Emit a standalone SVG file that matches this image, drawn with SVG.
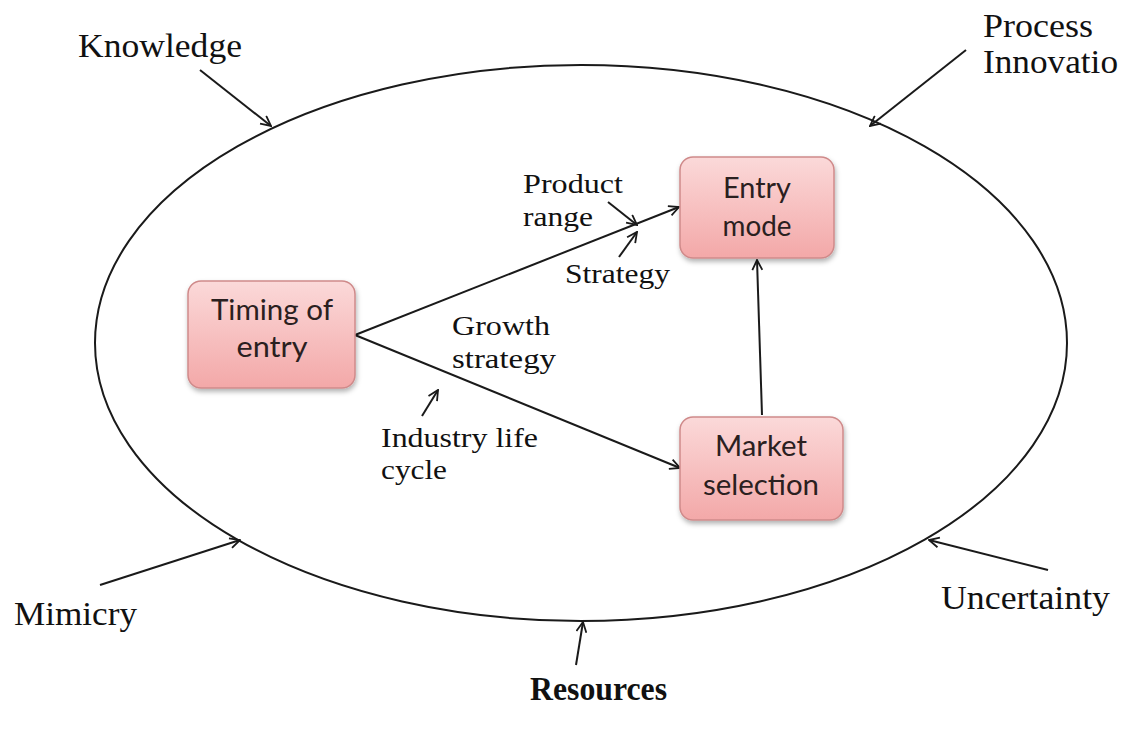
<svg xmlns="http://www.w3.org/2000/svg" width="1131" height="733" viewBox="0 0 1131 733">
<style>
.lbl{font-family:"Liberation Serif","Times New Roman",serif;font-size:33px;fill:#111}
.sm{font-size:28px}
.box{fill:url(#pink);stroke:#cf8a8a;stroke-width:1.5}
.bt{font-family:Lato,"Open Sans","Liberation Sans",sans-serif;font-size:29px;fill:#2a2020;text-anchor:middle}
.ln{stroke:#1a1a1a;stroke-width:2;fill:none;marker-end:url(#ah)}
</style>
<defs>
<linearGradient id="pink" x1="0" y1="0" x2="0" y2="1">
<stop offset="0" stop-color="#fbd9d9"/>
<stop offset="1" stop-color="#f3a8a8"/>
</linearGradient>
<filter id="sh" x="-20%" y="-20%" width="140%" height="140%">
<feDropShadow dx="1" dy="3" stdDeviation="2.5" flood-color="#000" flood-opacity="0.3"/>
</filter>
<marker id="ah" viewBox="0 0 12 12" refX="11" refY="6" markerWidth="12" markerHeight="12" markerUnits="userSpaceOnUse" orient="auto">
<path d="M1,1 L11,6 L1,11" fill="none" stroke="#1a1a1a" stroke-width="1.8"/>
</marker>
</defs>
<rect width="1131" height="733" fill="#fff"/>
<ellipse cx="581" cy="343" rx="486" ry="278" fill="none" stroke="#1a1a1a" stroke-width="2"/>
<g id="connectors">
<line class="ln" x1="355" y1="335" x2="679" y2="207"/>
<line class="ln" x1="355" y1="335" x2="680" y2="468"/>
<line class="ln" x1="762" y1="415" x2="757" y2="260"/>
<line class="ln" x1="608" y1="202" x2="637" y2="225"/>
<line class="ln" x1="619" y1="257" x2="637" y2="232"/>
<line class="ln" x1="422" y1="416" x2="438" y2="390"/>
<line class="ln" x1="200" y1="70" x2="271" y2="126"/>
<line class="ln" x1="966" y1="50" x2="870" y2="126"/>
<line class="ln" x1="100" y1="585" x2="240" y2="540"/>
<line class="ln" x1="1048" y1="570" x2="929" y2="540"/>
<line class="ln" x1="576" y1="665" x2="583" y2="622"/>
</g>
<g id="timing">
<rect class="box" x="188" y="281" width="167" height="107" rx="13" filter="url(#sh)"/>
<text class="bt" x="272" y="320" textLength="122" lengthAdjust="spacingAndGlyphs">Timing of</text>
<text class="bt" x="272" y="357" textLength="71" lengthAdjust="spacingAndGlyphs">entry</text>
</g>
<g id="entry-mode">
<rect class="box" x="680" y="157" width="154" height="101" rx="13" filter="url(#sh)"/>
<text class="bt" x="757" y="198" textLength="68" lengthAdjust="spacingAndGlyphs">Entry</text>
<text class="bt" x="757" y="236" textLength="69" lengthAdjust="spacingAndGlyphs">mode</text>
</g>
<g id="market-selection">
<rect class="box" x="680" y="417" width="163" height="103" rx="13" filter="url(#sh)"/>
<text class="bt" x="761" y="456" textLength="92" lengthAdjust="spacingAndGlyphs">Market</text>
<text class="bt" x="761" y="495" textLength="116" lengthAdjust="spacingAndGlyphs">selection</text>
</g>
<g id="labels">
<text class="lbl" x="78" y="57" textLength="164" lengthAdjust="spacingAndGlyphs">Knowledge</text>
<text class="lbl" x="983" y="37" textLength="110" lengthAdjust="spacingAndGlyphs">Process</text>
<text class="lbl" x="983" y="73" textLength="135" lengthAdjust="spacingAndGlyphs">Innovatio</text>
<text class="lbl sm" x="523" y="193" textLength="100" lengthAdjust="spacingAndGlyphs">Product</text>
<text class="lbl sm" x="523" y="226" textLength="70" lengthAdjust="spacingAndGlyphs">range</text>
<text class="lbl sm" x="565" y="283" textLength="105" lengthAdjust="spacingAndGlyphs">Strategy</text>
<text class="lbl sm" x="452" y="335" textLength="98" lengthAdjust="spacingAndGlyphs">Growth</text>
<text class="lbl sm" x="452" y="368" textLength="104" lengthAdjust="spacingAndGlyphs">strategy</text>
<text class="lbl sm" x="381" y="447" textLength="157" lengthAdjust="spacingAndGlyphs">Industry life</text>
<text class="lbl sm" x="381" y="479" textLength="66" lengthAdjust="spacingAndGlyphs">cycle</text>
<text class="lbl" x="14" y="625" textLength="123" lengthAdjust="spacingAndGlyphs">Mimicry</text>
<text class="lbl" x="941" y="609" textLength="169" lengthAdjust="spacingAndGlyphs">Uncertainty</text>
<text class="lbl" x="530" y="700" font-weight="bold" font-size="31" textLength="137" lengthAdjust="spacingAndGlyphs">Resources</text>
</g>
</svg>
